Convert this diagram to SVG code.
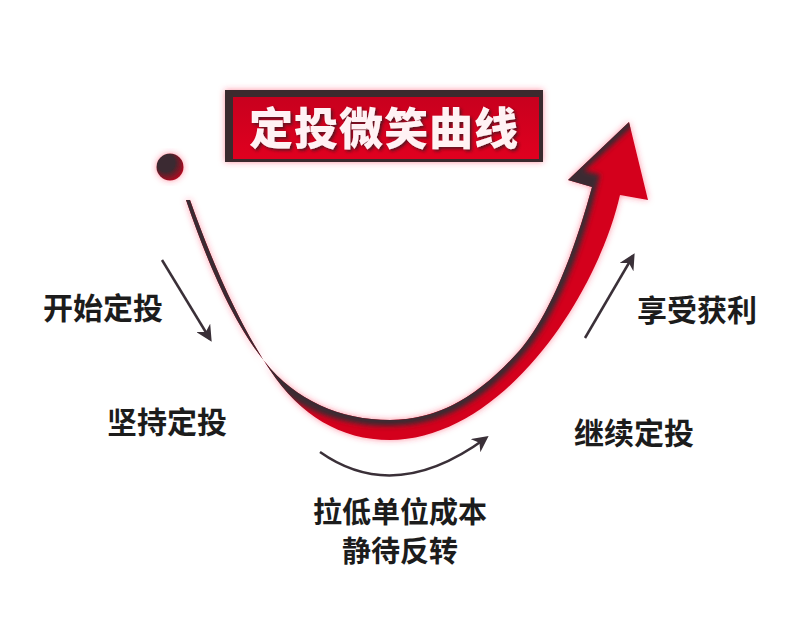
<svg xmlns="http://www.w3.org/2000/svg" width="800" height="638" viewBox="0 0 800 638">
<defs>
<style>
.lbl{font-family:"Noto Sans CJK SC","Noto Sans",sans-serif;font-weight:700;font-size:30px;fill:#1c1c1c;text-anchor:middle;dominant-baseline:central}
.sm{font-size:29px}
.arr{fill:none;stroke:#3a3038;stroke-width:2.5;marker-end:url(#ah)}
.title{font-family:"Noto Sans CJK SC","Noto Sans",sans-serif;font-weight:900;font-size:44px;fill:#fff2f4;text-anchor:middle;dominant-baseline:central}
</style>
<marker id="ah" viewBox="0 0 10 10" refX="8" refY="5" markerWidth="6.5" markerHeight="6.5" orient="auto" markerUnits="strokeWidth">
<path d="M0,0 L10,5 L0,10 L3,5 Z" fill="#3a3038"/>
</marker>
<filter id="glow" x="-20%" y="-20%" width="140%" height="140%">
<feGaussianBlur in="SourceAlpha" stdDeviation="3" result="b"/>
<feFlood flood-color="#ff3355" flood-opacity="0.55"/>
<feComposite in2="b" operator="in" result="g"/>
<feMerge><feMergeNode in="g"/><feMergeNode in="SourceGraphic"/></feMerge>
</filter>
<filter id="soft"><feGaussianBlur stdDeviation="2.5"/></filter>
<filter id="tshadow" x="-10%" y="-20%" width="120%" height="140%">
<feDropShadow dx="2" dy="2" stdDeviation="1.5" flood-color="#3a1a20" flood-opacity="0.8"/>
</filter>
<linearGradient id="boxg" x1="0" y1="0" x2="0" y2="1">
<stop offset="0" stop-color="#c8001e"/>
<stop offset="1" stop-color="#e0001f"/>
</linearGradient>
<radialGradient id="dotg" cx="0.35" cy="0.35" r="0.8">
<stop offset="0.4" stop-color="#3a2a30"/>
<stop offset="1" stop-color="#d0001c"/>
</radialGradient>
<clipPath id="curveclip">
<path d="M186,200 C210,270 235,325 265,362 C295,400 340,420 390,420 C440,420 480,395 520,350 C550,315 575,250 592,187 L568,180 L629,122 L648,200 L620,195 C610,240 580,310 530,365 C490,410 440,440 390,440 C340,440 300,415 270,370 C240,325 215,270 190,200 Z"/>
</clipPath>
</defs>
<rect width="800" height="638" fill="#ffffff"/>

<g id="title">
<rect x="225" y="90" width="318" height="72" fill="#3b2a2f" filter="url(#glow)"/>
<rect x="233" y="97" width="306" height="62" fill="url(#boxg)"/>
<text class="title" x="384" y="126" letter-spacing="1" filter="url(#tshadow)">定投微笑曲线</text>
</g>

<g id="start-dot">
<circle cx="170" cy="167" r="13.5" fill="url(#dotg)" filter="url(#glow)"/>
</g>

<g id="smile-curve">
<g filter="url(#glow)">
<path d="M186,200 C210,270 235,325 265,362 C295,400 340,420 390,420 C440,420 480,395 520,350 C550,315 575,250 592,187 L568,180 L629,122 L648,200 L620,195 C610,240 580,310 530,365 C490,410 440,440 390,440 C340,440 300,415 270,370 C240,325 215,270 190,200 Z" fill="#d4001d"/>
</g>
<g clip-path="url(#curveclip)">
<path d="M184,196 C208,268 233,323 263,360 C293,398 340,416 390,416 C440,416 478,392 517,347 C548,310 572,248 588,182 L564,176 L627,118" fill="none" stroke="#3a2a30" stroke-width="20" filter="url(#soft)"/>
</g>
</g>

<g id="connectors">
<path class="arr" d="M162,260 L210,339"/>
<path class="arr" d="M320,452 Q395,505 486,438"/>
<path class="arr" d="M585,338 L633,256"/>
</g>

<g id="labels">
<text class="lbl" x="103" y="306">开始定投</text>
<text class="lbl" x="167" y="420">坚持定投</text>
<text class="lbl sm" x="400" y="510">拉低单位成本</text>
<text class="lbl sm" x="400" y="549">静待反转</text>
<text class="lbl" x="697" y="308">享受获利</text>
<text class="lbl" x="634" y="431">继续定投</text>
</g>
</svg>
